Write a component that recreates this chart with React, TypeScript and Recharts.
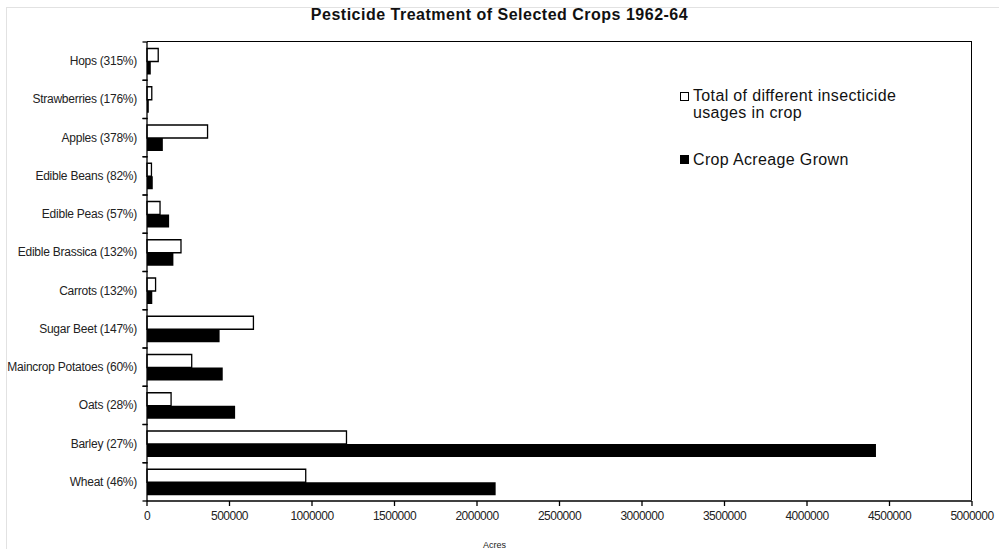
import React from 'react';
import { BarChart, Bar, XAxis, YAxis } from 'recharts';

const crops = [
  'Hops (315%)',
  'Strawberries (176%)',
  'Apples (378%)',
  'Edible Beans (82%)',
  'Edible Peas (57%)',
  'Edible Brassica (132%)',
  'Carrots (132%)',
  'Sugar Beet (147%)',
  'Maincrop Potatoes (60%)',
  'Oats (28%)',
  'Barley (27%)',
  'Wheat (46%)',
];
const insecticideUsages = [68000, 29000, 367000, 27000, 79000, 206000, 52000, 645000, 271000, 146000, 1209000, 962000];
const acreageGrown = [23000, 11000, 96000, 35000, 134000, 160000, 32000, 440000, 459000, 534000, 4418000, 2113000];
const xTicks = [0, 500000, 1000000, 1500000, 2000000, 2500000, 3000000, 3500000, 4000000, 4500000, 5000000];

const data = crops.map((name, i) => ({
  name,
  usages: insecticideUsages[i],
  acreage: acreageGrown[i],
}));

const W = 999;
const H = 549;
const M = { top: 42, right: 27, bottom: 0, left: 0 };
const Y_W = 147;
const X_H = 48;
const band = (H - M.top - X_H) / crops.length;
const FONT = '"Liberation Sans", Arial, sans-serif';

// category label in the middle of the band, tick marks on the band edges
const CropTick = (props: any) => {
  const { x, y, payload } = props;
  return (
    <g>
      <line x1={x + 3.5} x2={x + 8.5} y1={y - band / 2} y2={y - band / 2} stroke="#000" strokeWidth={1.3} />
      <line x1={x + 3.5} x2={x + 8.5} y1={y + band / 2} y2={y + band / 2} stroke="#000" strokeWidth={1.3} />
      <text x={x - 2} y={y} dy={4} textAnchor="end" fontSize={12} letterSpacing={-0.25} fill="#222" fontFamily={FONT}>
        {payload.value}
      </text>
    </g>
  );
};

const LegendBox = () => (
  <div style={{ position: 'absolute', left: 680, top: 87, fontFamily: FONT, fontSize: 16, letterSpacing: 0.35, color: '#111', lineHeight: '17px' }}>
    <div style={{ display: 'flex', alignItems: 'flex-start' }}>
      <span style={{ width: 9, height: 9, border: '1.3px solid #000', background: '#fff', boxSizing: 'border-box', marginTop: 5, marginRight: 4, flex: 'none' }} />
      <span>Total of different insecticide<br />usages in crop</span>
    </div>
    <div style={{ display: 'flex', alignItems: 'flex-start', marginTop: 30 }}>
      <span style={{ width: 9, height: 9, background: '#000', marginTop: 4, marginRight: 4, flex: 'none' }} />
      <span>Crop Acreage Grown</span>
    </div>
  </div>
);

export default function App() {
  return (
    <div style={{ position: 'absolute', left: 0, top: 0, width: W, height: H, background: '#fff' }}>
      <div style={{ position: 'absolute', left: 6, top: 7, right: 0, bottom: 0, borderLeft: '1px solid #e2e2e2', borderTop: '1px solid #e2e2e2' }} />
      <div
        style={{
          position: 'absolute',
          left: 0,
          width: W,
          top: 7,
          textAlign: 'center',
          fontFamily: FONT,
          fontWeight: 'bold',
          fontSize: 16,
          lineHeight: '16px',
          letterSpacing: 0.5,
          color: '#111',
        }}
      >
        Pesticide Treatment of Selected Crops 1962-64
      </div>
      {/* plot frame: top and right edges */}
      <div
        style={{
          position: 'absolute',
          left: Y_W,
          top: M.top - 1,
          width: W - Y_W - M.right,
          height: H - M.top - X_H,
          borderTop: '1.3px solid #000',
          borderRight: '1.3px solid #000',
          boxSizing: 'border-box',
        }}
      />
      <div style={{ position: 'absolute', left: 0, top: 0 }}>
        <BarChart
          width={W}
          height={H}
          data={data}
          layout="vertical"
          margin={M}
          barCategoryGap="17%"
          barGap={0}
        >
          <XAxis
            type="number"
            domain={[0, 5000000]}
            ticks={xTicks}
            interval={0}
            height={X_H}
            axisLine={{ stroke: '#000', strokeWidth: 1.3 }}
            tickLine={{ stroke: '#000', strokeWidth: 1.3 }}
            tickSize={5}
            tickMargin={5}
            tick={{ fontSize: 12, letterSpacing: -0.5, fill: '#222', fontFamily: FONT }}
            label={{ value: 'Acres', position: 'insideBottom', offset: 1, dx: -65, fontSize: 9, fill: '#222', fontFamily: FONT }}
          />
          <YAxis
            type="category"
            dataKey="name"
            width={Y_W}
            interval={0}
            tickLine={false}
            axisLine={{ stroke: '#000', strokeWidth: 1.3 }}
            tick={<CropTick />}
          />
          <Bar dataKey="usages" name="Total of different insecticide usages in crop" fill="#fff" stroke="#000" strokeWidth={1.3} isAnimationActive={false} />
          <Bar dataKey="acreage" name="Crop Acreage Grown" fill="#000" isAnimationActive={false} />
        </BarChart>
      </div>
      <LegendBox />
    </div>
  );
}
